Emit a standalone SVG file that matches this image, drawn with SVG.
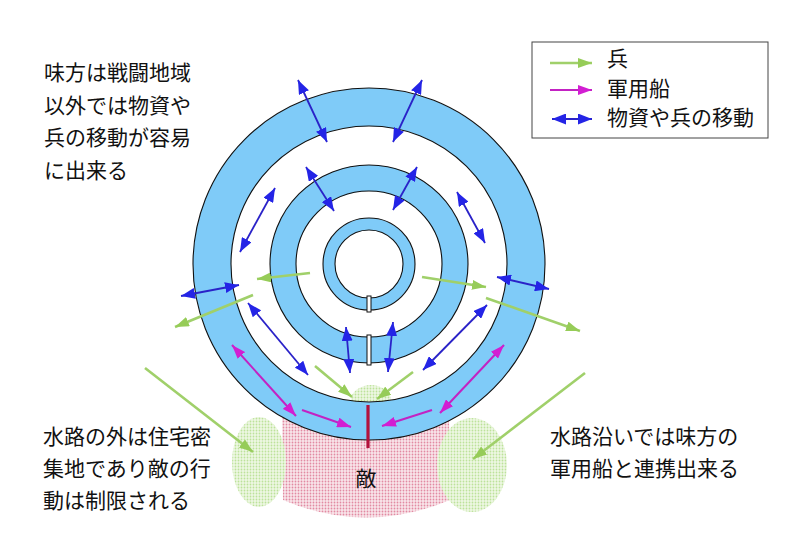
<svg xmlns="http://www.w3.org/2000/svg" width="800" height="558" viewBox="0 0 800 558">
<style>
text{font-family:"Noto Sans CJK JP","Noto Sans CJK SC",sans-serif;font-size:21px;fill:#111}
.ring{fill:#7fcbf8;stroke:#111;stroke-width:1.1;fill-rule:evenodd}
.b{stroke:#2a22c8;stroke-width:1.8;fill:none;marker-start:url(#ab);marker-end:url(#ab)}
.g{stroke:#a0d06a;stroke-width:2.6;fill:none;marker-end:url(#ag)}
.m{stroke:#c322c3;stroke-width:2;fill:none;marker-end:url(#am)}
.m2{marker-start:url(#am)}
.gap{fill:#fff;stroke:#111;stroke-width:1}
</style>
<defs>
<marker id="ab" markerUnits="userSpaceOnUse" markerWidth="14" markerHeight="11" refX="14" refY="5.5" orient="auto-start-reverse"><path d="M0,0 L14,5.5 L0,11 Z" fill="#2424e6"/></marker>
<marker id="ag" markerUnits="userSpaceOnUse" markerWidth="14" markerHeight="10" refX="14" refY="5" orient="auto-start-reverse"><path d="M0,0 L14,5 L0,10 Z" fill="#96cc58"/></marker>
<marker id="am" markerUnits="userSpaceOnUse" markerWidth="14" markerHeight="10" refX="14" refY="5" orient="auto-start-reverse"><path d="M0,0 L14,5 L0,10 Z" fill="#d21ed2"/></marker>
<pattern id="pp" width="3" height="3" patternUnits="userSpaceOnUse"><rect width="3" height="3" fill="#f9e6eb"/><circle cx="1.5" cy="1.5" r="0.9" fill="#e28aa2"/></pattern>
<pattern id="gp" width="3" height="3" patternUnits="userSpaceOnUse"><rect width="3" height="3" fill="#eef8e4"/><circle cx="1.5" cy="1.5" r="0.9" fill="#bde29a"/></pattern>
</defs>

<g id="enemy-area">
<path d="M282,410 L283,500 Q366,535 450,500 L449,410 Z" fill="url(#pp)"/>
</g>
<g id="green-areas">
<ellipse cx="259" cy="462" rx="27" ry="45" fill="url(#gp)"/>
<ellipse cx="472" cy="465" rx="35" ry="47" fill="url(#gp)"/>
<ellipse cx="371" cy="400" rx="20" ry="15" fill="url(#gp)"/>
</g>

<g id="rings">
<path class="ring" d="M193,264 a176,176 0 1,0 352,0 a176,176 0 1,0 -352,0 Z M231,264 a138,138 0 1,0 276,0 a138,138 0 1,0 -276,0 Z"/>
<path class="ring" d="M270,264 a99,99 0 1,0 198,0 a99,99 0 1,0 -198,0 Z M296,264 a73,73 0 1,0 146,0 a73,73 0 1,0 -146,0 Z"/>
<path class="ring" d="M323,264 a46,46 0 1,0 92,0 a46,46 0 1,0 -92,0 Z M335,264 a34,34 0 1,0 68,0 a34,34 0 1,0 -68,0 Z"/>
<rect class="gap" x="367" y="296" width="4" height="16"/>
<rect class="gap" x="367" y="335" width="4" height="30"/>
<line x1="368" y1="405" x2="368" y2="448" stroke="#b3123c" stroke-width="3.2"/>
</g>

<g id="connectors">
<line class="b" x1="298" y1="80" x2="327" y2="142"/>
<line class="b" x1="422" y1="80" x2="393" y2="142"/>
<line class="b" x1="306" y1="167" x2="334" y2="211"/>
<line class="b" x1="417" y1="167" x2="393" y2="210"/>
<line class="b" x1="275" y1="188" x2="240" y2="252"/>
<line class="b" x1="457" y1="192" x2="485" y2="243"/>
<line class="b" x1="181" y1="296" x2="239" y2="285"/>
<line class="b" x1="497" y1="277" x2="549" y2="289"/>
<line class="b" x1="248" y1="303" x2="308" y2="375"/>
<line class="b" x1="487" y1="305" x2="423" y2="370"/>
<line class="b" x1="346" y1="327" x2="350" y2="373"/>
<line class="b" x1="393" y1="322" x2="388" y2="372"/>

<line class="g" x1="310" y1="273" x2="257" y2="279"/>
<line class="g" x1="253" y1="295" x2="175" y2="327"/>
<line class="g" x1="422" y1="277" x2="486" y2="287"/>
<line class="g" x1="486" y1="298" x2="580" y2="331"/>
<line class="g" x1="315" y1="366" x2="352" y2="397"/>
<line class="g" x1="413" y1="372" x2="377" y2="399"/>
<line class="g" x1="145" y1="368" x2="253" y2="452"/>
<line class="g" x1="585" y1="373" x2="473" y2="459"/>

<line class="m m2" x1="232" y1="345" x2="296" y2="416"/>
<line class="m m2" x1="504" y1="345" x2="440" y2="413"/>
<line class="m" x1="302" y1="410" x2="351" y2="427"/>
<line class="m" x1="432" y1="410" x2="382" y2="426"/>
</g>

<g id="legend">
<rect x="532" y="42" width="236" height="96" fill="#fff" stroke="#444" stroke-width="1"/>
<line class="g" x1="550" y1="63" x2="592" y2="63"/>
<line class="m" x1="550" y1="90" x2="592" y2="90"/>
<line class="b" x1="552" y1="119" x2="592" y2="119"/>
<text x="607" y="66">兵</text>
<text x="607" y="96">軍用船</text>
<text x="607" y="125">物資や兵の移動</text>
</g>

<g id="labels">
<text x="44" y="80">味方は戦闘地域</text>
<text x="44" y="112.5">以外では物資や</text>
<text x="44" y="145">兵の移動が容易</text>
<text x="44" y="177.5">に出来る</text>
<text x="43" y="444">水路の外は住宅密</text>
<text x="43" y="476">集地であり敵の行</text>
<text x="43" y="508">動は制限される</text>
<text x="550" y="444">水路沿いでは味方の</text>
<text x="550" y="476">軍用船と連携出来る</text>
<text x="366" y="486" text-anchor="middle">敵</text>
</g>
</svg>
